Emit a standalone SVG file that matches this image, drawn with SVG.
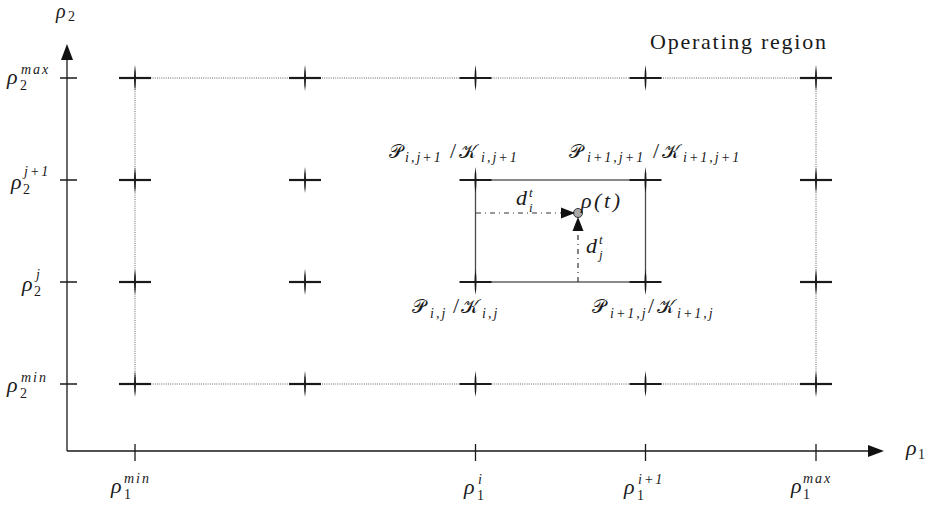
<svg xmlns="http://www.w3.org/2000/svg" width="930" height="506" viewBox="0 0 930 506">
<style>
text{font-family:"Liberation Serif","DejaVu Serif",serif;fill:#1a1a1a;font-style:italic;font-size:22px}
.u{font-style:normal}
.s{font-size:14px;letter-spacing:1px}
.t{font-size:13px}
.w{font-size:14px;letter-spacing:2px}
.n{font-style:normal;font-size:14px}
.c{font-family:"DejaVu Sans","DejaVu Serif","Noto Sans",serif;font-style:normal;font-size:19px}
.axis{stroke:#1a1a1a;stroke-width:1.3;fill:none}
.tick{stroke:#1a1a1a;stroke-width:1.3}
.dot{stroke:#666;stroke-width:1;stroke-dasharray:1,1.2;fill:none}
.cell{stroke:#4a4a4a;stroke-width:1.3;fill:none}
.dd{stroke:#333;stroke-width:1.2;stroke-dasharray:5,4,1,4;fill:none}
.head{fill:#111}
</style>
<defs>
<g id="cross">
<line x1="-16" y1="0" x2="16" y2="0" stroke="#1a1a1a" stroke-width="2.2"/>
<path d="M0,-13 Q2,0 0,13 Q-2,0 0,-13Z" fill="#1a1a1a"/>
</g>
</defs>

<g id="connectors">
<path class="dot" d="M135,78 H816 M135,384 H816 M135,78 V384 M816,78 V384"/>
<path class="axis" d="M67,451 V58 M67,451 H870"/>
<polygon class="head" points="67,44 61,60 73,60"/>
<polygon class="head" points="884,451 868,445 868,457"/>
<path class="tick" d="M60,78 H77 M60,180 H77 M60,282 H77 M60,384 H77"/>
<path class="tick" d="M135,444 V461 M475.5,444 V461 M645.5,444 V461 M816,444 V461"/>
<rect class="cell" x="475.5" y="180" width="170" height="102"/>
<path class="dd" d="M476,213 H562"/>
<path class="dd" d="M578,282 V231"/>
<circle cx="578" cy="213" r="4.5" fill="#aaa" stroke="#333" stroke-width="1"/>
<polygon class="head" points="575,213 561,207.5 561,218.5"/>
<polygon class="head" points="578,217 572.5,231 583.5,231"/>
</g>

<g id="grid">
<g id="p-1-max"><use href="#cross" x="135" y="78"/></g>
<g id="p-a-max"><use href="#cross" x="305" y="78"/></g>
<g id="p-i-max"><use href="#cross" x="475.5" y="78"/></g>
<g id="p-i1-max"><use href="#cross" x="645.5" y="78"/></g>
<g id="p-max-max"><use href="#cross" x="816" y="78"/></g>
<g id="p-min-j1"><use href="#cross" x="135" y="180"/></g>
<g id="p-a-j1"><use href="#cross" x="305" y="180"/></g>
<g id="p-i-j1"><use href="#cross" x="475.5" y="180"/></g>
<g id="p-i1-j1"><use href="#cross" x="645.5" y="180"/></g>
<g id="p-max-j1"><use href="#cross" x="816" y="180"/></g>
<g id="p-min-j"><use href="#cross" x="135" y="282"/></g>
<g id="p-a-j"><use href="#cross" x="305" y="282"/></g>
<g id="p-i-j"><use href="#cross" x="475.5" y="282"/></g>
<g id="p-i1-j"><use href="#cross" x="645.5" y="282"/></g>
<g id="p-max-j"><use href="#cross" x="816" y="282"/></g>
<g id="p-min-min"><use href="#cross" x="135" y="384"/></g>
<g id="p-a-min"><use href="#cross" x="305" y="384"/></g>
<g id="p-i-min"><use href="#cross" x="475.5" y="384"/></g>
<g id="p-i1-min"><use href="#cross" x="645.5" y="384"/></g>
<g id="p-max-min"><use href="#cross" x="816" y="384"/></g>
</g>

<g id="labels">
<text x="650" y="49" class="u" textLength="176" lengthAdjust="spacing">Operating region</text>
<text id="lbl-rho2" x="56" y="18" style="font-size:20px">ρ<tspan class="n" x="68" y="21">2</tspan></text>
<text id="lbl-rho1" x="906" y="455">ρ<tspan class="n" x="918" y="459">1</tspan></text>

<text id="lbl-r2max" x="7" y="84">ρ<tspan class="n" x="20" y="90">2</tspan><tspan class="w" x="21" y="74">max</tspan></text>
<text id="lbl-r2j1" x="11" y="189">ρ<tspan class="n" x="23" y="194">2</tspan><tspan class="w" x="24" y="176">j+1</tspan></text>
<text id="lbl-r2j" x="22" y="291">ρ<tspan class="n" x="34" y="296">2</tspan><tspan class="s" x="36" y="279">j</tspan></text>
<text id="lbl-r2min" x="7" y="392">ρ<tspan class="n" x="20" y="398">2</tspan><tspan class="w" x="21" y="382">min</tspan></text>

<text id="lbl-r1min" x="111" y="493">ρ<tspan class="n" x="124" y="499">1</tspan><tspan class="w" x="124" y="483">min</tspan></text>
<text id="lbl-r1i" x="464" y="494">ρ<tspan class="n" x="477" y="500">1</tspan><tspan class="s" x="478" y="484">i</tspan></text>
<text id="lbl-r1i1" x="624" y="494">ρ<tspan class="n" x="637" y="500">1</tspan><tspan class="w" x="638" y="484">i+1</tspan></text>
<text id="lbl-r1max" x="791" y="493">ρ<tspan class="n" x="803" y="499">1</tspan><tspan class="w" x="803" y="483">max</tspan></text>

<text id="lbl-di" x="516" y="205">d<tspan class="t" x="529" y="197">t</tspan><tspan class="t" x="529" y="212">i</tspan></text>
<text id="lbl-dj" x="586" y="253">d<tspan class="t" x="599" y="244">t</tspan><tspan class="t" x="599" y="259">j</tspan></text>
<text id="lbl-rhot" x="581" y="208" textLength="39" lengthAdjust="spacing">ρ(t)</text>

<text id="lbl-ij1" x="389" y="158"><tspan class="c">𝒫</tspan><tspan class="w" x="405" y="162">i,j+1</tspan><tspan class="u" x="450" y="158">/</tspan><tspan class="c" x="459" y="158">𝒦</tspan><tspan class="w" x="481" y="162">i,j+1</tspan></text>
<text id="lbl-i1j1" x="569" y="158"><tspan class="c">𝒫</tspan><tspan class="w" x="587" y="162">i+1,j+1</tspan><tspan class="u" x="653" y="158">/</tspan><tspan class="c" x="662" y="158">𝒦</tspan><tspan class="w" x="683" y="162">i+1,j+1</tspan></text>
<text id="lbl-ij" x="412" y="313"><tspan class="c">𝒫</tspan><tspan class="w" x="430" y="318">i,j</tspan><tspan class="u" x="453" y="313">/</tspan><tspan class="c" x="461" y="313">𝒦</tspan><tspan class="w" x="482" y="318">i,j</tspan></text>
<text id="lbl-i1j" x="592" y="313"><tspan class="c">𝒫</tspan><tspan class="w" x="610" y="318">i+1,j</tspan><tspan class="u" x="648" y="313">/</tspan><tspan class="c" x="657" y="313">𝒦</tspan><tspan class="w" x="677" y="318">i+1,j</tspan></text>
</g>
</svg>
